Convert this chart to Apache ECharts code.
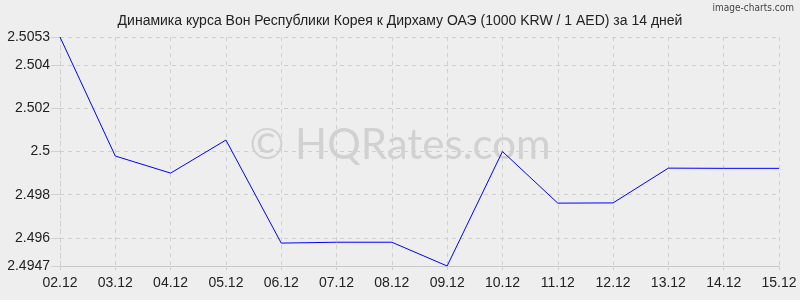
<!DOCTYPE html>
<html><head><meta charset="utf-8">
<script src="https://cdn.jsdelivr.net/npm/echarts@6/dist/echarts.min.js"></script>
<style>html,body{margin:0;padding:0;background:#eeeeee}#c{width:800px;height:300px}</style>
</head><body><div id="c"></div>
<script>
const titleText = 'Динамика курса Вон Республики Корея к Дирхаму ОАЭ (1000 KRW / 1 AED) за 14 дней';
const categories = ['02.12','03.12','04.12','05.12','06.12','07.12','08.12','09.12','10.12','11.12','12.12','13.12','14.12','15.12'];
const rates = [2.5053, 2.49979, 2.4990, 2.50053, 2.49576, 2.49580, 2.49580, 2.4947, 2.5000, 2.49761, 2.49762, 2.49923, 2.49922, 2.49922];
const yTicks = [2.4947, 2.496, 2.498, 2.5, 2.502, 2.504, 2.5053];
const yMin = 2.4947, yMax = 2.5053;

const chart = echarts.init(document.getElementById('c'), null, {renderer:'canvas'});
chart.setOption({
  backgroundColor: '#eeeeee',
  animation: false,
  title: {
    text: titleText, left: 'center', top: 9,
    textStyle: {fontFamily: 'Liberation Sans, Arial', fontSize: 14, fontWeight: 'normal', color: '#222'}
  },
  graphic: [
    {type:'text', right: 6, top: 3, style:{text:'image-charts.com', fontFamily:'DejaVu Sans Condensed, DejaVu Sans', fontSize: 10, fill:'#444'}},
    {type:'text', left: 'center', top: 124, z: 0, style:{text:'© HQRates.com', fontFamily:'Lato, Open Sans', fontSize: 42, fill:'rgba(170,170,170,0.42)'}}
  ],
  grid: {left: 60, right: 21, top: 37, bottom: 34, containLabel: false},
  xAxis: {
    type: 'category', data: categories, boundaryGap: false,
    axisLine: {show: true, lineStyle: {color: '#c8c8c8', width: 1}},
    axisTick: {show: true, length: 6, lineStyle: {color: '#d0d0d0', type: 'dashed'}},
    axisLabel: {color: '#222', fontFamily: 'Liberation Sans, Arial', fontSize: 14, margin: 10, showMinLabel: true, showMaxLabel: true, interval: 0},
    splitLine: {show: true, lineStyle: {color: '#d0d0d0', type: [4, 4]}}
  },
  yAxis: {
    type: 'value', min: yMin, max: yMax,
    axisLine: {show: true, lineStyle: {color: '#d0d0d0', type: [4, 4]}},
    axisTick: {show: true, length: 9, customValues: yTicks, lineStyle: {color: '#d0d0d0'}},
    axisLabel: {customValues: yTicks, color: '#222', fontFamily: 'Liberation Sans, Arial', fontSize: 14, margin: 10,
      formatter: v => String(+v.toFixed(4))},
    splitLine: {show: true, lineStyle: {color: '#d0d0d0', type: [4, 4]}}
  },
  series: [{
    type: 'line', data: rates, showSymbol: false, symbol: 'none',
    lineStyle: {color: '#0000ff', width: 1}, z: 5
  }]
});
</script></body></html>
